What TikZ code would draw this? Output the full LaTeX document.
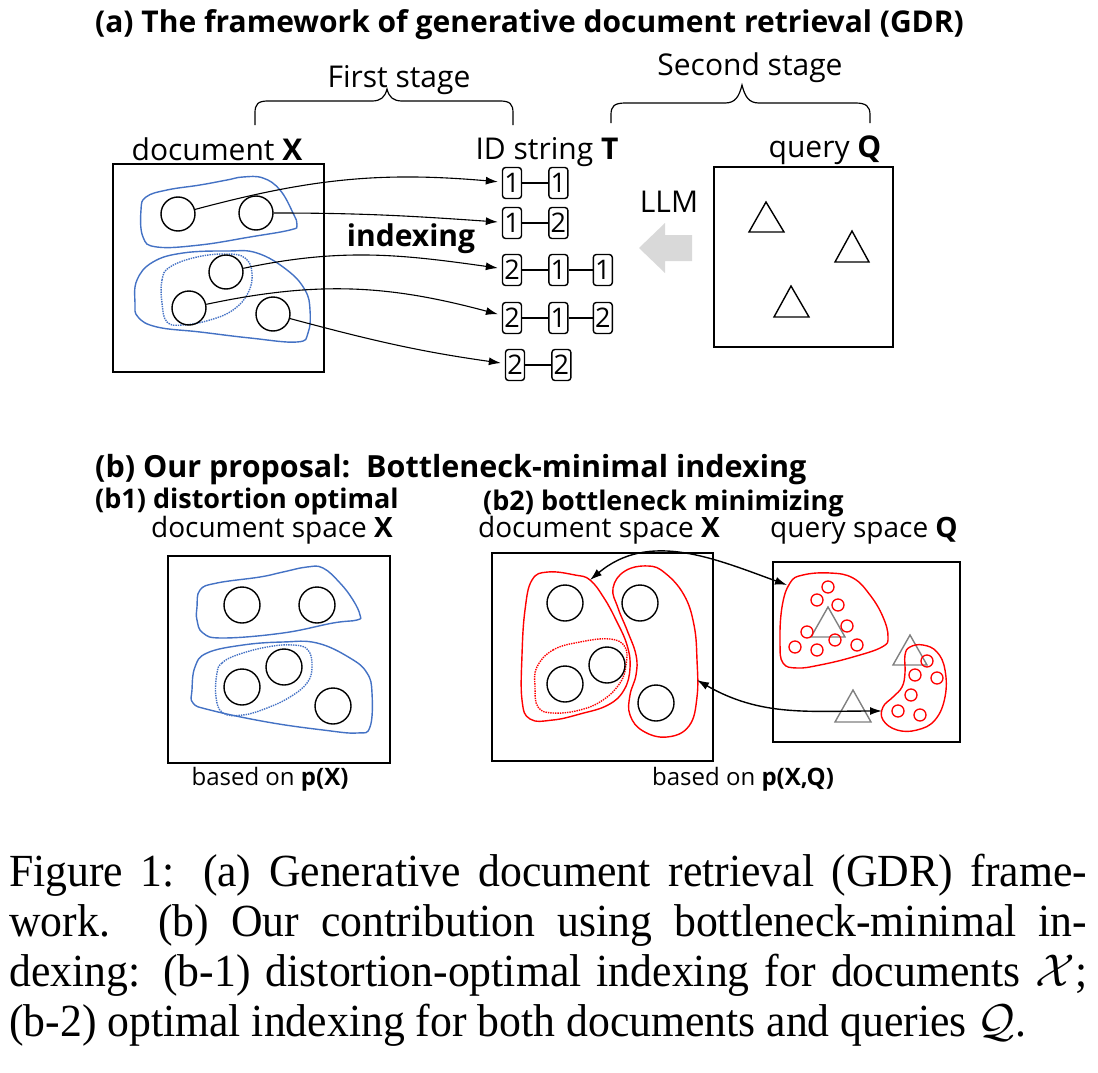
\RequirePackage{fix-cm}
\documentclass[tikz,border=0pt]{standalone}
\usepackage{fontspec}
\setmainfont{Open Sans}
\newfontfamily\capfont[FakeStretch=0.95]{Liberation Serif}
\usepackage{tikz}
\usetikzlibrary{positioning,arrows.meta}
\definecolor{clblue}{HTML}{4472C4}
\definecolor{clred}{HTML}{FF0000}
\definecolor{clgray}{HTML}{808080}
\definecolor{cllight}{HTML}{D9D9D9}
\tikzset{
	headtxt/.style={font=\bfseries\fontsize{30}{30}\selectfont, inner sep=0pt},
	subtxt/.style={font=\bfseries\fontsize{27}{27}\selectfont, inner sep=0pt},
	txt/.style={font=\fontsize{30}{30}\selectfont, inner sep=0pt},
	spacetxt/.style={font=\fontsize{28}{28}\selectfont, inner sep=0pt},
	basedtxt/.style={font=\fontsize{24}{24}\selectfont, inner sep=0pt},
	frame/.style={line width=1.6pt},
	doc/.style={circle, draw, line width=1.4pt, minimum size=34pt, inner sep=0pt},
	idbox/.style={draw, rounded corners=3pt, line width=1.4pt, minimum width=19pt, minimum height=31pt, inner sep=0pt, font=\fontsize{27}{27}\selectfont},
	idline/.style={line width=1.4pt},
	link/.style={-{Latex[length=12pt,width=8pt]}, line width=1.1pt, shorten >=4pt},
	both/.style={{Latex[length=12pt,width=8pt]}-{Latex[length=12pt,width=8pt]}, line width=1.4pt},
	blob/.style={line width=1.4pt, smooth cycle, tension=0.7},
}

\begin{document}
\begin{tikzpicture}[x=1pt,y=1pt]
		\useasboundingbox (0,0) rectangle (1098,-1073);
		
		%%%%% (a) GDR %%%%%
		
		\node[headtxt, anchor=base west] (titleA) at (95,-33) {(a) The framework of generative document retrieval (GDR)};
		\node[txt, anchor=base] (first) at (399,-88) {First stage};
		\node[txt, anchor=base] (second) at (750,-75) {Second stage};
		
		% braces
		\draw[line width=1.2pt] (255,-125) -- (255,-113) .. controls (255,-104) and (258,-101) .. (268,-101) -- (372,-101) .. controls (381,-101) and (385,-97) .. (387,-89) .. controls (389,-97) and (393,-101) .. (402,-101) -- (500,-101) .. controls (510,-101) and (513,-104) .. (513,-113) -- (513,-125);
		\draw[line width=1.2pt] (611,-123) -- (611,-115) .. controls (611,-106) and (614,-103) .. (626,-103) -- (725,-103) .. controls (735,-103) and (739,-97) .. (742,-85) .. controls (745,-97) and (749,-103) .. (759,-103) -- (855,-103) .. controls (866,-103) and (870,-106) .. (870,-115) -- (870,-123);
		
		\node[txt, anchor=base] (docX) at (217,-160) {document \textbf{X}};
		\node[txt, anchor=base] (idT) at (547,-159) {ID string \textbf{T}};
		\node[txt, anchor=base] (qryQ) at (825,-157) {query \textbf{Q}};
		\node[txt, anchor=base] (llm) at (669,-212) {LLM};
		\node[txt, font=\bfseries\fontsize{30}{30}\selectfont, anchor=base] (idx) at (411,-246) {indexing};
		
		% document box
		\draw[frame] (113,-164) rectangle (324,-372);
		\draw[blob, color=clblue] plot coordinates {(141,-210) (146,-197) (167,-190) (200,-185) (227,-180) (243,-177) (263,-178) (280,-190) (293,-213) (297,-225) (290,-230) (250,-237) (200,-245) (157,-247) (143,-237)};
		\draw[blob, color=clblue] plot coordinates {(135,-303) (137,-280) (153,-262) (183,-253) (227,-251) (257,-253) (287,-270) (305,-290) (310,-310) (308,-333) (297,-342) (250,-338) (200,-332) (157,-327) (138,-317)};
		\draw[blob, color=clblue, densely dotted] plot coordinates {(162,-303) (162,-280) (170,-267) (197,-257) (227,-254) (245,-258) (252,-273) (248,-293) (233,-310) (210,-320) (183,-325) (167,-322)};
		
		\node[doc] (x11) at (178,-214) {};
		\node[doc] (x12) at (256,-213) {};
		\node[doc] (x211) at (226,-272) {};
		\node[doc] (x212) at (189,-308) {};
		\node[doc] (x22) at (273,-314) {};
		
		% ID strings
		\node[idbox] (t1a) at (512,-183) {1};
		\node[idbox, right=26pt of t1a] (t1b) {1};
		\node[idbox] (t2a) at (512,-223) {1};
		\node[idbox, right=26pt of t2a] (t2b) {2};
		\node[idbox] (t3a) at (512,-270) {2};
		\node[idbox, right=26pt of t3a] (t3b) {1};
		\node[idbox, right=24pt of t3b] (t3c) {1};
		\node[idbox] (t4a) at (512,-318) {2};
		\node[idbox, right=26pt of t4a] (t4b) {1};
		\node[idbox, right=24pt of t4b] (t4c) {2};
		\node[idbox] (t5a) at (515,-365) {2};
		\node[idbox, right=26pt of t5a] (t5b) {2};
		\draw[idline] (t1a) -- (t1b);
		\draw[idline] (t2a) -- (t2b);
		\draw[idline] (t3a) -- (t3b) (t3b) -- (t3c);
		\draw[idline] (t4a) -- (t4b) (t4b) -- (t4c);
		\draw[idline] (t5a) -- (t5b);
		
		\draw[link] (x11) to[out=15, in=175] (t1a);
		\draw[link] (x12) to[out=0, in=176] (t2a);
		\draw[link] (x211) to[out=12, in=172] (t3a);
		\draw[link] (x212) to[out=12, in=165] (t4a);
		\draw[link] (x22) to[out=-15, in=172] (t5a);
		
		% LLM arrow
		\fill[cllight] (692,-235) -- (665,-235) -- (665,-223) -- (639,-248) -- (665,-273) -- (665,-261) -- (692,-261) -- cycle;
		
		% query box
		\draw[frame] (714,-167) rectangle (893,-347);
		\draw[line width=1.4pt] (766,-202) -- (749,-232) -- (784,-232) -- cycle;
		\draw[line width=1.4pt] (852,-231) -- (835,-262) -- (869,-262) -- cycle;
		\draw[line width=1.4pt] (791,-286) -- (774,-317) -- (809,-317) -- cycle;
		
		%%%%% (b) PROPOSAL %%%%%
		
		\node[headtxt, font=\bfseries\fontsize{30.5}{30.5}\selectfont, anchor=base west] (titleB) at (95,-477) {(b) Our proposal:\ \ Bottleneck-minimal indexing};
		\node[subtxt, anchor=base west] (titleB1) at (95,-508) {(b1) distortion optimal};
		\node[subtxt, anchor=base west] (titleB2) at (483,-510) {(b2) bottleneck minimizing};
		\node[spacetxt, anchor=base] (spaceX1) at (272,-537) {document space \textbf{X}};
		\node[spacetxt, anchor=base] (spaceX2) at (599,-537) {document space \textbf{X}};
		\node[spacetxt, anchor=base] (spaceQ) at (864,-537) {query space \textbf{Q}};
		\node[basedtxt, anchor=base] (basedX) at (270,-785) {based on \textbf{p(X)}};
		\node[basedtxt, anchor=base] (basedXQ) at (743,-785) {based on \textbf{p(X,Q)}};
		
		% (b1)
		\draw[frame] (168,-556) rectangle (390,-763);
		\draw[blob, color=clblue] plot coordinates {(197,-607) (200,-590) (217,-583) (260,-577) (283,-572) (307,-567) (323,-568) (340,-583) (353,-600) (360,-615) (357,-620) (333,-623) (283,-633) (223,-638) (203,-633) (197,-620)};
		\draw[blob, color=clblue] plot coordinates {(192,-690) (195,-667) (207,-653) (243,-645) (283,-642) (317,-643) (350,-658) (367,-673) (372,-693) (370,-727) (357,-733) (323,-730) (267,-722) (210,-710) (193,-703)};
		\draw[blob, color=clblue, densely dotted] plot coordinates {(217,-673) (222,-663) (237,-655) (267,-647) (293,-645) (308,-650) (312,-667) (307,-683) (290,-697) (267,-708) (243,-715) (223,-713) (216,-697)};
		\node[doc, minimum size=36pt] (y1) at (242,-605) {};
		\node[doc, minimum size=36pt] (y2) at (317,-605) {};
		\node[doc, minimum size=36pt] (y3) at (284,-667) {};
		\node[doc, minimum size=36pt] (y4) at (242,-687) {};
		\node[doc, minimum size=36pt] (y5) at (333,-706) {};
		
		% (b2) documents
		\draw[frame] (492,-553) rectangle (713,-761);
		\draw[blob, color=clred] plot coordinates {(532,-580) (548,-572) (575,-575) (590,-580) (604,-598) (616,-620) (627,-645) (630,-668) (624,-690) (608,-705) (580,-714) (553,-720) (530,-719) (522,-700) (522,-655) (525,-610)};
		\draw[blob, color=clred] plot coordinates {(613,-588) (625,-571) (648,-566) (665,-573) (684,-595) (694,-625) (697,-660) (697,-697) (689,-726) (667,-737) (643,-731) (630,-715) (630,-695) (636,-675) (636,-655) (627,-630) (618,-608)};
		\draw[blob, color=clred, densely dotted] plot coordinates {(537,-667) (553,-650) (580,-642) (610,-639) (625,-647) (626,-665) (620,-683) (603,-700) (580,-710) (553,-713) (538,-707) (535,-687)};
		\node[doc, minimum size=36pt] (z1) at (565,-603) {};
		\node[doc, minimum size=36pt] (z2) at (640,-603) {};
		\node[doc, minimum size=36pt] (z3) at (607,-665) {};
		\node[doc, minimum size=36pt] (z4) at (565,-684) {};
		\node[doc, minimum size=36pt] (z5) at (656,-703) {};
		
		% (b2) queries
		\draw[frame] (773,-562) rectangle (960,-742);
		\draw[line width=1.4pt, color=clgray] (828,-607) -- (811,-637) -- (845,-637) -- cycle;
		\draw[line width=1.4pt, color=clgray] (910,-635) -- (893,-665) -- (927,-665) -- cycle;
		\draw[line width=1.4pt, color=clgray] (853,-690) -- (835,-722) -- (871,-722) -- cycle;
		\draw[blob, color=clred] plot coordinates {(790,-583) (803,-575) (830,-573) (853,-578) (870,-595) (883,-617) (888,-637) (882,-647) (853,-657) (820,-665) (797,-668) (783,-663) (780,-643) (782,-607)};
		\draw[blob, color=clred] plot coordinates {(910,-647) (923,-645) (937,-652) (945,-670) (945,-697) (935,-720) (917,-730) (897,-730) (883,-720) (883,-707) (893,-697) (902,-687) (905,-673) (905,-655)};
		\draw[line width=1.3pt, color=clred] (828,-587) circle (6);
		\draw[line width=1.3pt, color=clred] (817,-600) circle (6);
		\draw[line width=1.3pt, color=clred] (838,-605) circle (6);
		\draw[line width=1.3pt, color=clred] (847,-626) circle (6);
		\draw[line width=1.3pt, color=clred] (807,-632) circle (6);
		\draw[line width=1.3pt, color=clred] (835,-640) circle (6);
		\draw[line width=1.3pt, color=clred] (857,-645) circle (6);
		\draw[line width=1.3pt, color=clred] (795,-647) circle (6);
		\draw[line width=1.3pt, color=clred] (817,-650) circle (6);
		\draw[line width=1.3pt, color=clred] (927,-661) circle (6);
		\draw[line width=1.3pt, color=clred] (915,-675) circle (6);
		\draw[line width=1.3pt, color=clred] (937,-678) circle (6);
		\draw[line width=1.3pt, color=clred] (911,-695) circle (6);
		\draw[line width=1.3pt, color=clred] (898,-711) circle (6);
		\draw[line width=1.3pt, color=clred] (920,-715) circle (6);
		
		\coordinate (rl) at (590,-580);
		\coordinate (rq) at (787,-585);
		\coordinate (rr) at (697,-680);
		\coordinate (rq2) at (882,-711);
		\draw[both] (rl) to[out=40, in=160] (rq);
		\draw[both] (rr) to[out=-30, in=180] (rq2);
		
		%%%%% CAPTION %%%%%
		
		\node[anchor=north west, text width=1078pt, align=justify, inner sep=0pt, font=\capfont\fontsize{46}{50}\selectfont] (caption) at (9,-854) {\noindent Figure 1: (a) Generative document retrieval (GDR) frame-\linebreak work.  (b) Our contribution using bottleneck-minimal in-\linebreak dexing: (b-1) distortion-optimal indexing for documents $\mathcal{X}$;\linebreak (b-2) optimal indexing for both documents and queries $\mathcal{Q}$.};
		
	\end{tikzpicture}
\end{document}
